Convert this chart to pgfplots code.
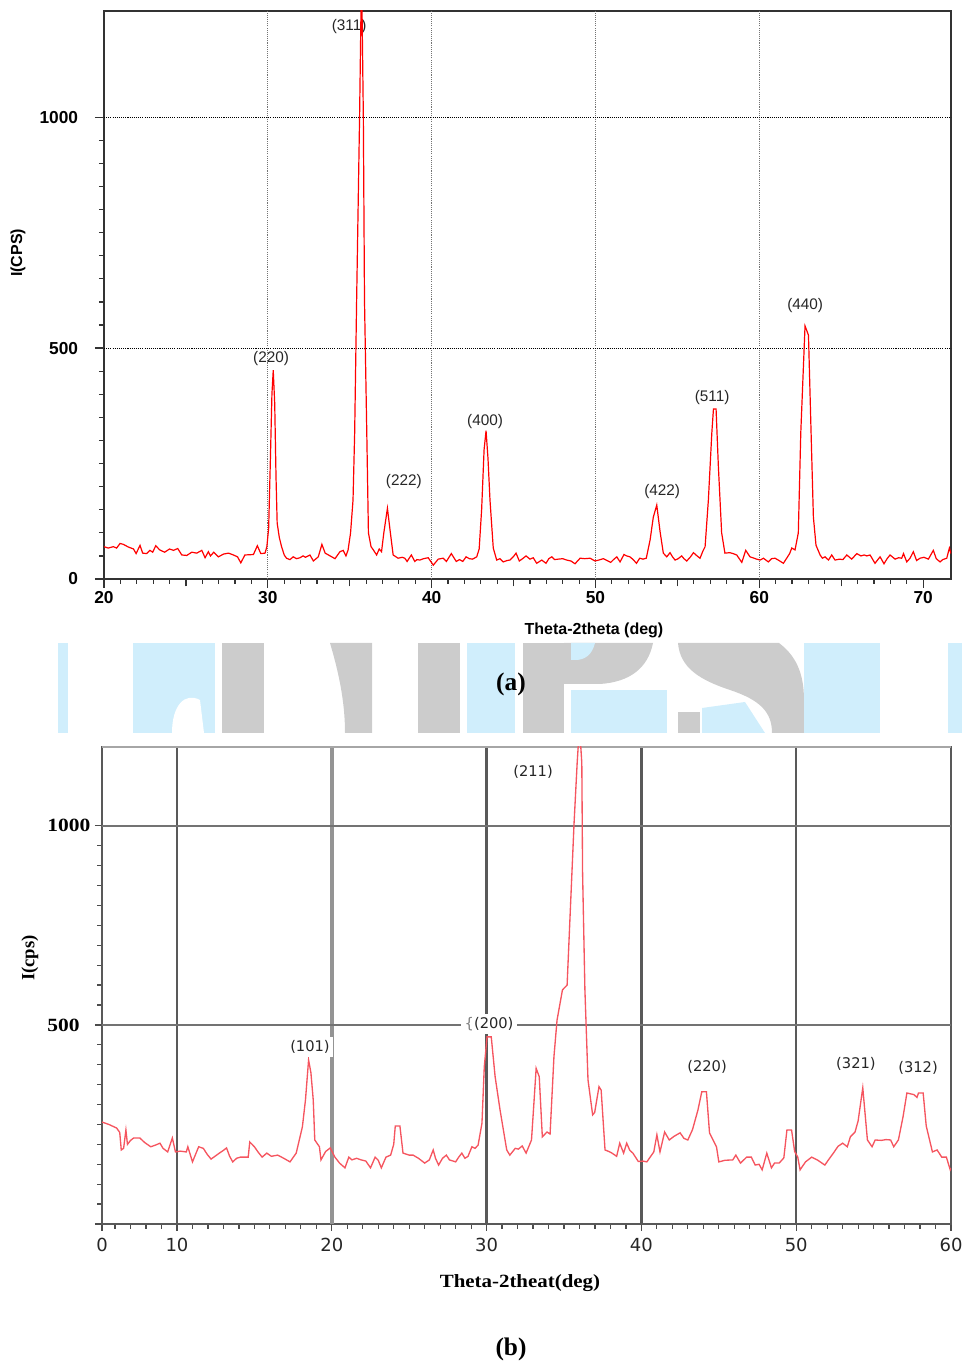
\documentclass[border=0pt]{standalone}
\usepackage{fontspec}
\setmainfont{Liberation Serif}
\newfontfamily\arial{Liberation Sans}
\newfontfamily\dejavu{DejaVu Sans}
\usepackage{pgfplots}
\pgfplotsset{compat=1.18}
\definecolor{wmblue}{RGB}{208,238,252}
\definecolor{wmgray}{RGB}{204,204,204}
\definecolor{curveb}{RGB}{245,85,95}
\begin{document}
\begin{tikzpicture}
\useasboundingbox (0,0) rectangle (723.75pt,1023.75pt);
% watermark band (px coordinates)
\begin{scope}[x=0.75pt,y=-0.75pt,shift={(0pt,1023.75pt)}]
\fill[wmblue] (58,643) rectangle (68,733);
\fill[wmblue] (133,643) rectangle (215,733);
\fill[white] (172,733) .. controls (172,705) and (185,692) .. (200,700) -- (204,733) -- cycle;
\fill[wmgray] (222,643) rectangle (264,733);
\fill[wmgray] (330,643) -- (372,643) -- (372,733) -- (345,733) .. controls (345,700) and (338,670) .. (330,643) -- cycle;
\fill[wmgray] (418,643) rectangle (460,733);
\fill[wmblue] (467,643) rectangle (515,733);
\fill[wmgray] (523,643) rectangle (564,733);
\fill[wmgray] (564,643) -- (653,643) .. controls (648,668) and (630,682) .. (600,684) -- (564,684) -- cycle;
\fill[wmblue] (571,643) -- (595,643) .. controls (592,655) and (585,660) .. (575,660) -- (571,660) -- cycle;
\fill[wmblue] (571,690) rectangle (667,733);
\fill[wmgray] (678,643) -- (779,643) .. controls (795,655) and (804,672) .. (804,700) -- (804,733) -- (772,733) .. controls (772,712) and (760,700) .. (730,690) .. controls (700,680) and (680,668) .. cycle;
\fill[wmgray] (678,712) rectangle (700,733);
\fill[wmblue] (702,708) -- (745,702) -- (765,733) -- (702,733) -- cycle;
\fill[wmblue] (804,643) rectangle (880,733);
\fill[wmblue] (948,643) rectangle (962,733);
\end{scope}
\node[font=\bfseries\fontsize{19}{22}\selectfont] at (383.25pt,510.75pt) {(a)};
\node[font=\bfseries\fontsize{19}{22}\selectfont] at (383.25pt,12pt) {(b)};

% ---------------- panel (a)
\begin{axis}[
  at={(78pt,589.5pt)}, anchor=south west, scale only axis,
  width=635.25pt, height=426pt,
  xmin=20, xmax=71.7, ymin=0, ymax=1230,
  xtick={20,30,...,70}, ytick={0,500,1000},
  minor x tick num=9, minor y tick num=9,
  extra x ticks={25,35,45,55,65}, extra x tick labels={},
  extra x tick style={major tick length=5.5pt},
  tick pos=left, tick align=outside,
  major tick length=6.75pt, minor tick length=3.75pt,
  every tick/.style={black!80, line width=0.9pt},
  axis line style={black!80, line width=1.2pt},
  /pgf/number format/assume math mode=true,
  /pgf/number format/1000 sep={},
  ticklabel style={font=\arial\bfseries\fontsize{13}{15}\selectfont},
  xticklabel style={anchor=center, yshift=-7.5pt},
  yticklabel style={anchor=east, inner sep=0pt, xshift=-12.5pt},
  xlabel={Theta-2theta (deg)}, ylabel={I(CPS)},
  label style={font=\arial\bfseries\fontsize{12}{14}\selectfont},
  xlabel style={at={(axis description cs:0.5785,-0.0898)}, anchor=center},
  ylabel style={at={(axis description cs:-0.1015,0.574)}, anchor=center},
]
\pgfplotsinvokeforeach{30,40,50,60}{
  \draw[black!55, dash pattern=on 0.8pt off 0.8pt, line width=0.8pt] (axis cs:#1,0) -- (axis cs:#1,1230);
}
\draw[black, dash pattern=on 0.8pt off 0.8pt, line width=0.7pt] (axis cs:20,500) -- (axis cs:71.7,500);
\draw[black, dash pattern=on 0.8pt off 0.8pt, line width=0.7pt] (axis cs:20,1000) -- (axis cs:71.7,1000);
\begin{scope}[every node/.style={font=\arial\fontsize{11.5}{13}\selectfont, text=black!85}]
\node at (axis cs:30.2,478) {(220)};
\node at (axis cs:34.96,1197) {(311)};
\node at (axis cs:38.3,212) {(222)};
\node at (axis cs:43.26,342) {(400)};
\node at (axis cs:54.07,190) {(422)};
\node at (axis cs:57.12,394) {(511)};
\node at (axis cs:62.8,593) {(440)};
\end{scope}
\addplot[red, line width=0.9pt, no marks] coordinates {
(20.0,70) (20.26,67) (20.57,70) (20.77,67) (20.98,77) (21.18,75) (21.5,69) (21.8,65)
(21.96,55) (22.2,73) (22.36,56) (22.6,55) (22.8,62) (22.97,58) (23.16,72) (23.4,63)
(23.7,58) (24.0,65) (24.24,62) (24.5,66) (24.75,52) (25.05,51) (25.36,58) (25.66,56)
(25.97,62) (26.17,46) (26.37,59) (26.5,50) (26.7,58) (26.98,48) (27.3,54) (27.6,56)
(27.9,52) (28.15,48) (28.35,35) (28.6,52) (29.12,53) (29.36,72) (29.57,55) (29.83,56)
(29.94,70) (30.05,110) (30.15,250) (30.25,400) (30.33,452) (30.42,380) (30.5,220) (30.57,121)
(30.7,90) (30.84,70) (31.0,52) (31.14,45) (31.35,42) (31.55,48) (31.75,44) (31.96,46) (32.15,50) (32.3,47) (32.57,52)
(32.78,39) (33.08,48) (33.3,75) (33.5,56) (33.8,50) (34.1,44) (34.4,59) (34.6,62)
(34.77,50) (34.9,63) (35.05,100) (35.2,171) (35.3,316) (35.42,604) (35.6,1000) (35.72,1320)
(35.83,1000) (35.9,604) (36.04,316) (36.14,100) (36.3,70) (36.44,63) (36.64,52) (36.8,65)
(36.94,59) (37.08,100) (37.3,153) (37.48,100) (37.65,52) (37.95,45) (38.2,47) (38.36,45) (38.5,38)
(38.76,52) (38.97,38) (39.1,42) (39.28,41) (39.5,44) (39.79,46) (40.1,30) (40.4,43) (40.7,45) (40.9,38)
(41.2,55) (41.5,38) (41.7,42) (41.9,38) (42.1,48) (42.3,44) (42.5,43) (42.75,48) (42.9,65) (43.05,150)
(43.2,280) (43.32,321) (43.44,260) (43.56,171) (43.76,67) (43.97,41) (44.17,44) (44.37,37) (44.6,40) (44.78,41)
(44.98,48) (45.15,56) (45.35,39) (45.55,44) (45.76,50) (46.0,43) (46.2,46) (46.41,34) (46.72,41) (46.98,34)
(47.15,44) (47.33,48) (47.5,42) (47.73,43) (48.0,44) (48.24,41) (48.5,39) (48.75,33) (49.06,45) (49.35,44) (49.67,45) (49.97,39) (50.2,41) (50.48,44)
(50.7,40) (50.93,36) (51.1,42) (51.3,48) (51.5,37) (51.74,53) (51.9,50) (52.1,48) (52.3,42) (52.5,34) (52.7,45) (52.9,43) (53.1,45)
(53.33,84) (53.53,134) (53.74,160) (53.94,103) (54.14,56) (54.35,48) (54.55,57) (54.7,48) (54.86,41)
(55.05,44) (55.26,50) (55.4,44) (55.57,39) (55.8,48) (55.98,57) (56.2,50) (56.38,45) (56.55,60) (56.69,70) (56.89,171) (57.1,316) (57.2,368)
(57.36,368) (57.5,244) (57.7,100) (57.9,56) (58.2,57) (58.4,55) (58.62,52) (58.93,36) (59.17,62)
(59.43,48) (59.6,46) (59.84,43) (60.05,41) (60.25,45) (60.55,37) (60.75,44) (60.96,45) (61.2,40) (61.47,34) (61.67,45) (61.85,55) (61.98,67)
(62.18,63) (62.38,100) (62.53,316) (62.79,548) (63.0,528) (63.16,316) (63.3,134) (63.46,73)
(63.71,52) (63.85,45) (64.01,48) (64.22,41) (64.42,52) (64.62,41) (64.9,43) (65.1,42) (65.34,52) (65.64,43) (65.95,55)
(66.2,50) (66.4,52) (66.56,50) (66.76,52) (67.06,34) (67.37,48) (67.61,33) (67.8,44) (67.98,52) (68.29,43) (68.5,46) (68.69,45)
(68.8,55) (69.0,37) (69.2,45) (69.4,59) (69.6,40) (69.81,45) (70.05,47) (70.32,43) (70.62,62) (70.8,44) (71.03,37) (71.2,42) (71.44,45)
(71.6,67) (71.7,55)
};
\end{axis}

% ---------------- panel (b)
\begin{axis}[
  at={(76.5pt,105.75pt)}, anchor=south west, scale only axis,
  width=636.75pt, height=357.75pt,
  xmin=5.155, xmax=60, ymin=0, ymax=1198,
  xtick={5.155,10,20,30,40,50,60}, xticklabels={0,10,20,30,40,50,60},
  minor xtick={6,...,59},
  ytick={0,500,1000}, yticklabels={{},500,1000}, minor y tick num=9,
  tick pos=left, tick align=outside,
  major tick length=5.25pt, minor tick length=3.5pt,
  every tick/.style={black!70, line width=0.9pt},
  axis line style={black!65, line width=1.5pt},
  /pgf/number format/assume math mode=true,
  xticklabel style={font=\dejavu\fontsize{13.5}{15}\selectfont, text=black!85, anchor=center, yshift=-10.5pt},
  yticklabel style={font=\bfseries\fontsize{14}{16}\selectfont, anchor=west, inner sep=0pt, xshift=-36pt, xscale=1.15},
  xlabel={Theta-2theat(deg)}, ylabel={I(cps)},
  label style={font=\bfseries\fontsize{14}{16}\selectfont},
  xlabel style={at={(axis description cs:0.4923,-0.1237)}, anchor=center, xscale=1.12},
  ylabel style={at={(axis description cs:-0.0848,0.5577)}, anchor=center},
]
\pgfplotsinvokeforeach{10,30,40,50}{
  \draw[black!65, line width=1.8pt] (axis cs:#1,0) -- (axis cs:#1,1198);
}
\draw[black!42, line width=2.6pt] (axis cs:20,0) -- (axis cs:20,1198);
\draw[black!55, line width=1.5pt] (axis cs:5.155,500) -- (axis cs:60,500);
\draw[black!55, line width=1.5pt] (axis cs:5.155,1000) -- (axis cs:60,1000);
\draw[black!35, line width=1.5pt] (axis cs:5.155,1198) -- (axis cs:60,1198);
\addplot[curveb, line width=1pt, no marks] coordinates {
(5.155,256) (5.6,250) (6.1,241) (6.3,230) (6.4,186) (6.55,190) (6.7,236) (6.8,200)
(7.0,210) (7.2,216) (7.6,216) (7.9,205) (8.3,194) (8.6,198) (8.9,203) (9.1,190) (9.4,181) (9.7,216) (9.9,181) (10.2,183) (10.6,181)
(10.7,194) (11.0,156) (11.4,194) (11.7,190) (11.95,175) (12.2,163) (12.45,170) (12.7,177) (13.0,185) (13.2,191) (13.4,170) (13.6,156)
(13.85,165) (14.1,168) (14.6,168) (14.7,206) (15.0,194) (15.25,180) (15.5,168) (15.8,178) (16.1,170) (16.5,173) (16.9,165) (17.3,156)
(17.7,178) (18.1,244) (18.3,312) (18.5,412) (18.65,380) (18.8,312) (18.9,211) (19.2,194) (19.3,161)
(19.6,182) (19.9,191) (20.2,168) (20.5,153) (20.85,141) (21.1,168) (21.3,161) (21.6,165) (21.9,161)
(22.2,158) (22.5,141) (22.8,168) (23.0,160) (23.2,141) (23.5,168) (23.8,173) (24.0,200) (24.1,246) (24.4,246) (24.6,178)
(25.0,173) (25.25,173) (25.6,165) (25.9,156) (26.0,153) (26.3,161) (26.55,186) (26.7,165) (26.9,148) (27.15,165) (27.4,173)
(27.6,161) (28.0,156) (28.2,168) (28.4,178) (28.6,165) (28.8,170) (29.05,194) (29.25,190) (29.45,198) (29.7,253) (29.85,395)
(30.03,470) (30.3,470) (30.55,370) (30.87,286) (31.3,186) (31.5,173) (31.85,190) (32.05,188) (32.3,196)
(32.55,178) (32.9,211) (33.05,300) (33.2,391) (33.4,370) (33.6,219) (33.9,231) (34.1,226) (34.35,420)
(34.55,512) (34.9,588) (35.2,600) (35.4,781) (35.65,1007) (35.85,1158) (36.0,1250) (36.15,1158)
(36.2,882) (36.35,588) (36.55,362) (36.85,274) (36.98,280) (37.26,345) (37.4,336) (37.65,186)
(37.9,182) (38.1,178) (38.4,170) (38.6,203) (38.85,178) (39.05,203) (39.25,185) (39.45,178) (39.8,157) (40.1,158) (40.35,156)
(40.8,181) (41.0,224) (41.2,181) (41.5,231) (41.8,211) (42.1,220) (42.5,229) (42.75,215) (43.0,211) (43.3,237)
(43.65,286) (43.9,332) (44.2,332) (44.4,229) (44.85,194) (45.0,156) (45.4,160) (45.9,161) (46.1,173)
(46.4,153) (46.8,168) (47.1,168) (47.35,148) (47.6,150) (47.8,136) (48.1,178) (48.4,141) (48.6,153)
(48.9,153) (49.2,166) (49.4,236) (49.7,236) (49.9,182) (50.1,168) (50.25,136) (50.6,156)
(51.0,168) (51.4,160) (51.85,148) (52.1,162) (52.4,178) (52.7,195) (53.0,203) (53.3,194) (53.5,219) (53.8,231) (54.0,259)
(54.3,342) (54.6,211) (54.9,194) (55.1,211) (55.5,210) (55.8,212) (56.1,211) (56.3,194) (56.6,211) (56.9,269)
(57.15,329) (57.6,325) (57.8,318) (57.9,329) (58.2,329) (58.4,246) (58.8,181) (59.1,186)
(59.4,168) (59.7,168) (59.95,136) (60,140)
};
\begin{scope}[every node/.style={font=\dejavu\fontsize{11}{13}\selectfont, text=black!85, fill=white, inner sep=2.5pt}]
\node at (axis cs:18.59,445) {(101)};
\node at (axis cs:30.16,502) {\textcolor{gray}{\{}(200)};
\node at (axis cs:33.0,1136) {(211)};
\node at (axis cs:44.24,394) {(220)};
\node at (axis cs:53.86,402) {(321)};
\node at (axis cs:57.87,392) {(312)};
\end{scope}
\end{axis}
\end{tikzpicture}
\end{document}
